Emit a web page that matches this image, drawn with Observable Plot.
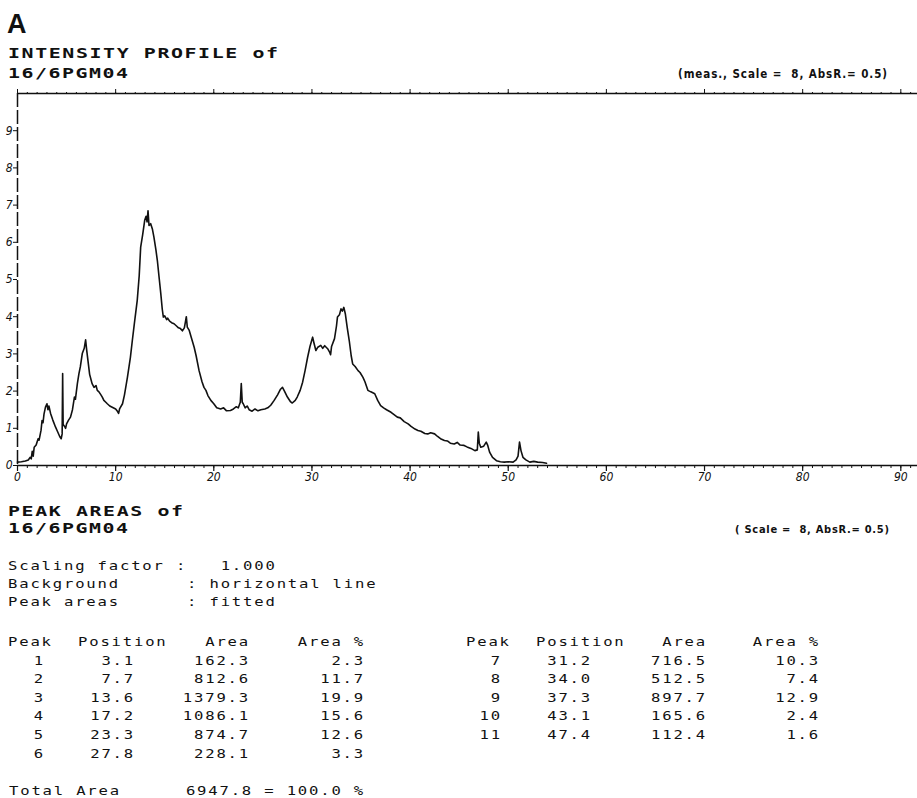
<!DOCTYPE html>
<html><head><meta charset="utf-8">
<script src="https://cdn.jsdelivr.net/npm/d3@7"></script>
<script src="https://cdn.jsdelivr.net/npm/@observablehq/plot@0.6"></script>
<style>
body{margin:0;background:#fff;}
#page{position:relative;width:917px;height:798px;overflow:hidden;background:#fff;}
#chart{position:absolute;left:0;top:80px;}
#txt{position:absolute;left:0;top:0;}
</style></head><body>
<div id="page"><svg id="txt" width="917" height="798"></svg><div id="chart"></div></div>
<script>
// ---- intensity profile ----
const profileX = [0.0,0.4,0.8,1.1,1.3,1.4,1.5,1.6,1.7,1.9,2.1,2.2,2.4,2.5,2.6,2.7,2.85,3.0,3.1,3.2,3.37,3.6,3.88,4.1,4.3,4.45,4.55,4.6,4.65,4.8,4.9,5.0,5.2,5.4,5.6,5.8,5.9,6.1,6.26,6.4,6.6,6.8,6.94,7.05,7.18,7.35,7.5,7.6,7.8,8.0,8.13,8.3,8.5,8.64,8.8,9.0,9.15,9.4,9.7,10.0,10.2,10.3,10.4,10.7,10.9,11.2,11.5,11.7,11.9,12.2,12.4,12.55,12.75,12.96,13.1,13.2,13.3,13.4,13.57,13.75,13.9,14.1,14.25,14.45,14.6,14.75,14.86,15.0,15.2,15.3,15.5,15.7,15.95,16.2,16.4,16.6,16.8,17.0,17.1,17.2,17.3,17.5,17.7,18.0,18.2,18.5,18.8,19.0,19.2,19.4,19.7,20.0,20.3,20.7,21.0,21.3,21.7,22.0,22.3,22.5,22.7,22.8,22.9,23.0,23.2,23.4,23.6,23.9,24.2,24.5,24.8,25.2,25.5,25.8,26.15,26.5,26.8,27.0,27.2,27.5,27.8,28.0,28.3,28.5,28.8,29.05,29.3,29.56,29.8,30.07,30.2,30.4,30.6,30.9,31.1,31.3,31.6,31.8,31.9,32.0,32.3,32.5,32.6,32.8,32.96,33.1,33.25,33.4,33.6,33.8,34.0,34.15,34.4,34.7,34.9,35.2,35.4,35.7,36.0,36.4,36.7,37.0,37.3,37.6,38.06,38.3,38.7,39.0,39.4,39.8,40.1,40.5,40.8,41.1,41.5,41.8,42.1,42.5,42.8,43.1,43.5,43.8,44.1,44.5,44.8,45.1,45.5,45.8,46.2,46.6,46.85,46.95,47.05,47.2,47.5,47.76,47.9,48.1,48.4,48.8,49.2,49.6,50.0,50.5,50.8,51.0,51.15,51.3,51.5,51.8,52.2,52.6,53.0,53.5,53.9];
const profileY = [0.09,0.10,0.12,0.15,0.22,0.18,0.38,0.25,0.49,0.55,0.72,0.68,0.95,1.21,1.15,1.38,1.57,1.66,1.50,1.60,1.40,1.22,1.03,0.90,0.78,0.72,0.85,2.47,1.10,1.05,1.00,1.12,1.22,1.30,1.50,1.84,1.78,2.20,2.47,2.65,3.01,3.15,3.38,3.10,2.82,2.45,2.30,2.20,2.10,2.15,2.02,1.98,1.90,1.84,1.75,1.70,1.66,1.60,1.56,1.52,1.45,1.40,1.52,1.66,1.90,2.37,2.90,3.36,3.80,4.44,5.10,5.87,6.20,6.59,6.70,6.55,6.85,6.45,6.50,6.35,6.14,5.80,5.51,5.00,4.62,4.20,3.99,4.02,3.92,3.96,3.88,3.84,3.81,3.75,3.70,3.68,3.62,3.70,3.85,4.00,3.72,3.63,3.45,3.18,2.95,2.55,2.25,2.10,2.02,1.88,1.75,1.66,1.55,1.52,1.55,1.47,1.48,1.52,1.58,1.55,1.70,2.20,1.70,1.66,1.55,1.60,1.50,1.46,1.52,1.47,1.50,1.52,1.55,1.62,1.75,1.90,2.05,2.10,2.00,1.84,1.72,1.68,1.75,1.84,2.02,2.24,2.55,2.91,3.20,3.45,3.30,3.09,3.18,3.23,3.15,3.22,3.14,3.05,2.98,3.20,3.41,3.75,3.99,4.05,4.21,4.15,4.25,4.08,3.70,3.36,2.95,2.73,2.66,2.55,2.50,2.37,2.25,2.02,1.98,1.93,1.75,1.61,1.55,1.50,1.43,1.38,1.30,1.28,1.18,1.12,1.05,0.98,0.94,0.92,0.86,0.85,0.88,0.85,0.78,0.72,0.67,0.66,0.60,0.58,0.62,0.55,0.54,0.50,0.46,0.40,0.42,0.90,0.60,0.49,0.52,0.63,0.55,0.36,0.22,0.13,0.10,0.09,0.10,0.09,0.15,0.25,0.63,0.40,0.22,0.15,0.09,0.11,0.09,0.08,0.06];

// ---- axes ----
const xTicks = [0,10,20,30,40,50,60,70,80,90];
const xMinor = d3.range(0, 92, 1);
const yTicks = [0,1,2,3,4,5,6,7,8,9];

// ---- peak table ----
const peakNo   = [1,2,3,4,5,6,7,8,9,10,11];
const peakPos  = [3.1,7.7,13.6,17.2,23.3,27.8,31.2,34.0,37.3,43.1,47.4];
const peakArea = [162.3,812.6,1379.3,1086.1,874.7,228.1,716.5,512.5,897.7,165.6,112.4];
const peakPct  = [2.3,11.7,19.9,15.6,12.6,3.3,10.3,7.4,12.9,2.4,1.6];
const totalArea = 6947.8;
const totalPct = 100.0;

const profile = profileX.map((x,i)=>({x, y: profileY[i]}));

const tickFont = "'DejaVu Sans Condensed', 'DejaVu Sans', sans-serif";
const chart = Plot.plot({
  width: 917, height: 407,
  marginLeft: 17, marginRight: 0, marginTop: 13, marginBottom: 22,
  x: {domain: [0, 91.7]},
  y: {domain: [0, 10]},
  style: {background: "transparent", fontFamily: tickFont, fontSize: "12px", fontStyle: "italic", color: "#111"},
  marks: [
    Plot.axisX({ticks: xMinor, tickSize: 3, tickFormat: () => "", label: null, strokeWidth: 1}),
    Plot.axisX({ticks: xTicks, tickSize: 6, tickPadding: 1, label: null, strokeWidth: 1.2}),
    Plot.axisX({anchor: "top", ticks: xMinor, tickSize: 2, tickFormat: () => "", label: null}),
    Plot.axisX({anchor: "top", ticks: xTicks, tickSize: 5, tickFormat: () => "", label: null}),
    Plot.axisY({ticks: yTicks, tickSize: 4, tickPadding: 1, label: null}),
    Plot.ruleY([0], {stroke: "#111", strokeWidth: 1.5}),
    Plot.ruleY([10], {stroke: "#111", strokeWidth: 1.3}),
    Plot.ruleX([0], {stroke: "#111", strokeWidth: 1.5, strokeDasharray: "14,3"}),
    Plot.line(profile, {x: "x", y: "y", stroke: "#111", strokeWidth: 1.6})
  ]
});
document.getElementById("chart").appendChild(chart);

// ---- text overlay ----
const svg = d3.select("#txt");
const mono = "'DejaVu Sans Mono', 'Liberation Mono', monospace";
function t(str, x, y, o = {}) {
  const sx = o.sx || 1;
  const el = svg.append("text").attr("x", 0).attr("y", 0).text(str)
    .attr("transform", `translate(${x},${y}) scale(${sx},1)`)
    .attr("font-family", o.family || mono)
    .attr("font-size", o.size || 12)
    .attr("font-weight", o.weight || "normal")
    .attr("fill", "#111")
    .attr("text-anchor", o.anchor || "start")
    .style("white-space", "pre");
  if (o.ls !== undefined) el.style("letter-spacing", o.ls + "px");
  if (o.len) el.attr("textLength", o.len / sx).attr("lengthAdjust", "spacing");
  return el;
}
// body text: 11.2px per character cell
const BSX = 1.3, BLS = 11.2 / 1.3 - 12 * 0.602;
const body = (s, x, y, anchor) => t(s, x, y, {size: 12, sx: BSX, ls: BLS, anchor});
const head = (s, x, y, len) => t(s, x, y, {size: 14, weight: "bold", sx: 1.42, len});

t("A", 7, 33, {family: "'Liberation Sans', Arial, sans-serif", size: 27, weight: "bold"});
head("INTENSITY PROFILE of", 8, 58, 270);
head("16/6PGM04", 8, 78, 120);
t("(meas., Scale =  8, AbsR.= 0.5)", 678, 78, {family: "'Liberation Sans Narrow', 'DejaVu Sans Condensed', sans-serif", size: 11.5, weight: "bold", len: 209});

head("PEAK AREAS of", 8, 516, 175);
head("16/6PGM04", 8, 533, 120);
t("( Scale =  8, AbsR.= 0.5)", 735, 533, {family: "'Liberation Sans Narrow', 'DejaVu Sans Condensed', sans-serif", size: 11, weight: "bold", len: 154});

body("Scaling factor :   1.000", 8, 570);
body("Background      : horizontal line", 8, 588);
body("Peak areas      : fitted", 8, 606);

const rowY0 = 646, rowDy = 18.6;
const cols = [
  {x0: 8, peakR: 45, posR: 135, areaR: 250, pctR: 365, idx: [0,1,2,3,4,5]},
  {x0: 466, peakR: 502, posR: 592, areaR: 707, pctR: 820, idx: [6,7,8,9,10]}
];
cols.forEach(c => {
  body("Peak", c.x0, rowY0);
  body("Position", c.x0 + 70, rowY0);
  body("Area", c.areaR, rowY0, "end");
  body("Area %", c.pctR, rowY0, "end");
  c.idx.forEach((k, r) => {
    const y = rowY0 + rowDy * (r + 1);
    body(String(peakNo[k]), c.peakR, y, "end");
    body(peakPos[k].toFixed(1), c.posR, y, "end");
    body(peakArea[k].toFixed(1), c.areaR, y, "end");
    body(peakPct[k].toFixed(1), c.pctR, y, "end");
  });
});
body("Total Area", 9, 795);
body(`${totalArea.toFixed(1)} = ${totalPct.toFixed(1)} %`, 365, 795, "end");
</script>
</body></html>
